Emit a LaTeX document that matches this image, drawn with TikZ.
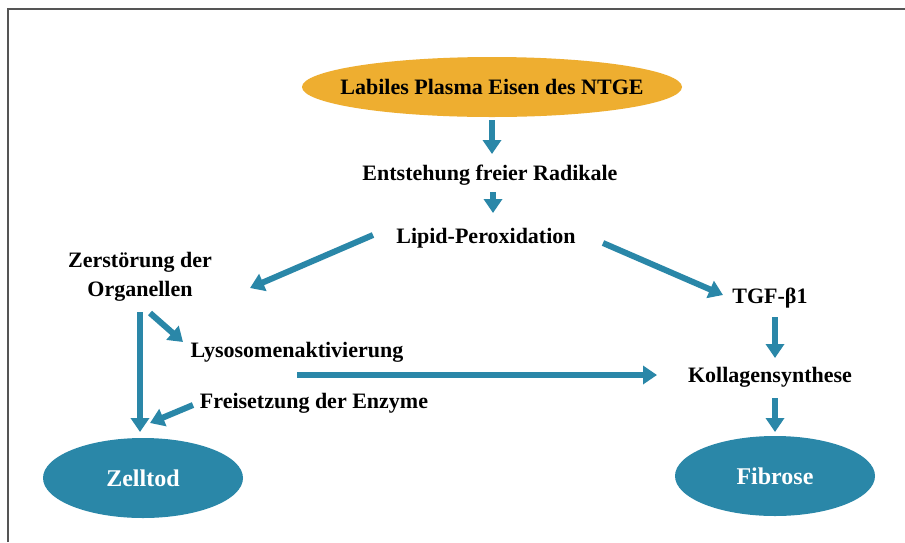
\documentclass[tikz,border=0pt]{standalone}
\usepackage{fontspec}
\setmainfont{Liberation Serif}
\usetikzlibrary{arrows.meta,calc,shapes.geometric}
\definecolor{teal1}{HTML}{2A87A8}
\definecolor{orange1}{HTML}{EEAE30}
\definecolor{frame1}{HTML}{555555}
\begin{document}
\begin{tikzpicture}[x=1pt,y=-1pt,
  lbl/.style={inner sep=0pt,font=\fontsize{22}{29}\selectfont\bfseries,align=center},
  oval/.style={ellipse,inner sep=0pt,draw=none},
  arr/.style={draw=teal1,line width=6pt,-{Triangle[width=18pt,length=14pt]}}]
\useasboundingbox (0,0) rectangle (905,542);
\fill[white] (0,0) rectangle (905,542);
\draw[frame1,line width=2pt] (8,542) -- (8,9) -- (905,9);

\node[oval,fill=orange1,minimum width=380pt,minimum height=60pt] (top) at (492,87) {};
\node[lbl] at (top) {Labiles Plasma Eisen des NTGE};
\node[lbl] (rad) at (490,175) {Entstehung freier Radikale};
\node[lbl] (lip) at (486,238) {Lipid-Peroxidation};
\node[lbl] (zer) at (140,277) {Zerstörung der\\Organellen};
\node[lbl] (lyso) at (297,352) {Lysosomenaktivierung};
\node[lbl] (frei) at (314,403) {Freisetzung der Enzyme};
\node[lbl] (tgf) at (770,298) {TGF-β1};
\node[lbl] (koll) at (770,377) {Kollagensynthese};
\node[oval,fill=teal1,minimum width=200pt,minimum height=80pt] (zell) at (143,478) {};
\node[lbl,text=white,font=\fontsize{24}{28}\selectfont\bfseries] at (zell) {Zelltod};
\node[oval,fill=teal1,minimum width=200pt,minimum height=80pt] (fib) at (775,476) {};
\node[lbl,text=white,font=\fontsize{24}{28}\selectfont\bfseries] at (fib) {Fibrose};

\draw[arr] ($(top)+(0,33)$) -- ($(rad)+(2,-21)$);
\draw[arr] ($(rad)+(3,17)$) -- ($(lip)+(7,-25)$);
\draw[arr] ($(lip)+(-113,-3)$) -- ($(zer)+(110,11)$);
\draw[arr] ($(lip)+(117,5)$) -- ($(tgf)+(-47,-3)$);
\draw[arr] ($(zer)+(10,36)$) -- ($(lyso)+(-114,-10)$);
\draw[arr] ($(zer)+(0,35)$) -- ($(zell)+(-3,-46)$);
\draw[arr] ($(lyso)+(0,23)$) -- ($(koll)+(-113,-2)$);
\draw[arr] ($(frei)+(-121,2)$) -- ($(zell)+(7,-55)$);
\draw[arr] ($(tgf)+(5,19)$) -- ($(koll)+(5,-19)$);
\draw[arr] ($(koll)+(5,21)$) -- ($(fib)+(0,-44)$);
\end{tikzpicture}
\end{document}
